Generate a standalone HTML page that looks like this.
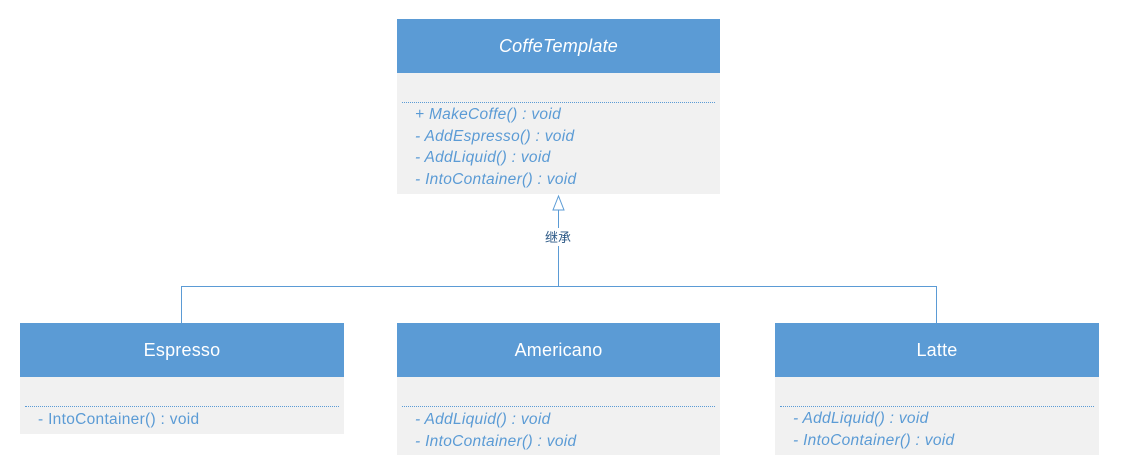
<!DOCTYPE html>
<html><head><meta charset="utf-8"><style>
body{margin:0;width:1139px;height:470px;background:#fff;position:relative;font-family:"Segoe UI","Liberation Sans","Noto Sans CJK SC",sans-serif;overflow:hidden}
.box{position:absolute;background:#f1f1f1}
.hd{position:absolute;left:0;right:0;top:0;height:54px;background:#5b9bd5;color:#fff;font-size:18px;text-align:center;line-height:54px;letter-spacing:0.2px}
.dot{position:absolute;left:5px;right:5px;border-top:1px dotted #5b9bd5}
.t{position:absolute;left:18px;color:#5b9bd5;font-size:15.5px;line-height:21.5px;white-space:nowrap;letter-spacing:0.3px}
i{font-style:italic}
</style></head><body>
<svg width="1139" height="470" style="position:absolute;left:0;top:0">
<g stroke="#5b9bd5" stroke-width="1" fill="none">
<path d="M181.5 323V286.5H936.5V323"/>
<path d="M558.5 286V210"/>
<path d="M558.5 196L553 210H564Z" fill="#fff"/>
</g>
<rect x="540" y="228" width="36" height="18" fill="#fff"/>
<text x="558" y="242" font-size="13" fill="#2e5a87" text-anchor="middle" font-family="Noto Sans CJK SC,sans-serif">继承</text>
</svg>
<div class="box" style="left:397px;top:19px;width:323px;height:175px">
<div class="hd"><i>CoffeTemplate</i></div>
<div class="dot" style="top:83px"></div>
<div class="t" style="top:85px"><i>+ MakeCoffe() : void<br>- AddEspresso() : void<br>- AddLiquid() : void<br>- IntoContainer() : void</i></div>
</div>
<div class="box" style="left:20px;top:323px;width:324px;height:111px">
<div class="hd">Espresso</div>
<div class="dot" style="top:83px"></div>
<div class="t" style="top:86px">- IntoContainer() : void</div>
</div>
<div class="box" style="left:397px;top:323px;width:323px;height:132px">
<div class="hd">Americano</div>
<div class="dot" style="top:83px"></div>
<div class="t" style="top:86px"><i>- AddLiquid() : void<br>- IntoContainer() : void</i></div>
</div>
<div class="box" style="left:775px;top:323px;width:324px;height:132px">
<div class="hd">Latte</div>
<div class="dot" style="top:83px"></div>
<div class="t" style="top:85px"><i>- AddLiquid() : void<br>- IntoContainer() : void</i></div>
</div>
</body></html>
